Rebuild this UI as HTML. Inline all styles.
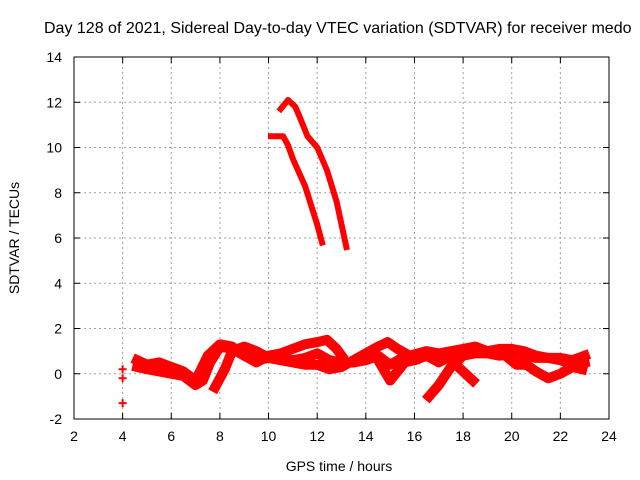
<!DOCTYPE html>
<html><head><meta charset="utf-8"><style>
body{margin:0;background:#fff}
svg{display:block;font-family:"Liberation Sans",sans-serif;font-size:14px}
</style></head><body>
<svg id="c" width="640" height="480">
<text x="44" y="33" font-size="16" text-anchor="start">Day 128 of 2021, Sidereal Day-to-day VTEC variation (SDTVAR) for receiver medo</text>
<text x="339" y="471" text-anchor="middle">GPS time / hours</text>
<text transform="translate(19,238) rotate(-90)" text-anchor="middle">SDTVAR / TECUs</text>
<g id="grid"></g>
<g id="ticks"></g>
<g id="marks"></g>
<rect x="74" y="57" width="535" height="362" fill="none" stroke="#000" stroke-width="1"/>
</svg>
<script>
const xTicks=[2,4,6,8,10,12,14,16,18,20,22,24];
const yTicks=[-2,0,2,4,6,8,10,12,14];
const arcLow=[[10.1,10.5],[10.6,10.5],[10.8,10.1],[11,9.5],[11.5,8.3],[12,6.6],[12.2,5.8]];
const arcHigh=[[10.5,11.7],[10.8,12.1],[11.1,11.8],[11.3,11.3],[11.6,10.5],[12,10.0],[12.4,9.0],[12.8,7.6],[13.2,5.6]];
const bandA=[[4.6,0.3],[5,0.2],[5.5,0.1],[6,0.0],[6.5,-0.1],[7,-0.5],[7.3,-0.3],[7.6,0.5],[8,1.2],[8.5,1.1],[9,0.8],[9.5,0.6],[10,0.7],[10.5,0.7],[11,0.6],[11.5,0.7],[12,0.9],[12.5,0.6],[13,0.5],[13.5,0.5],[14,0.6],[14.5,0.8],[15,0.4],[15.5,0.7],[16,0.6],[16.5,0.8],[17,0.5],[17.5,0.8],[18,0.8],[18.5,0.9],[19,0.9],[19.5,0.8],[20,0.9],[20.5,0.8],[21,0.7],[21.5,0.7],[22,0.6],[22.5,0.4],[23,0.5]];
const bandB=[[4.6,0.6],[5,0.4],[5.5,0.5],[6,0.3],[6.5,0.1],[7,-0.3],[7.5,0.8],[8,1.3],[8.5,1.2],[9,0.8],[9.5,0.5],[10,0.8],[10.5,0.9],[11,1.1],[11.5,1.3],[12,1.4],[12.4,1.5],[12.8,1.1],[13,0.8]];
const bandC=[[7.8,-0.6],[8.2,0.2],[8.5,1.0],[9,1.2],[9.5,1.0],[10,0.7],[10.5,0.6],[11,0.5],[11.5,0.4],[12,0.4],[12.5,0.2],[13,0.3],[13.5,0.6],[14,0.9],[14.5,1.2],[14.9,1.4],[15.3,1.1],[15.8,0.8],[16.5,1.0],[17,0.9],[17.5,1.0],[18,1.1],[18.5,1.2],[19,1.0],[19.5,1.1],[20,1.1],[20.5,1.0],[21,0.8],[21.5,0.7],[22,0.7],[22.5,0.6],[23,0.8]];
const dip1=[[14.4,0.8],[15,-0.3],[15.6,0.5],[16,0.6]];
const dip2=[[16.6,-1.0],[17,-0.5],[17.5,0.3],[18,0.8]];
const dip3=[[17.4,0.7],[18,0.1],[18.4,-0.3]];
const dip4=[[19.5,1.0],[20.2,0.4],[20.6,0.4],[21,0.1],[21.5,-0.2],[22,0.0],[22.5,0.3],[22.9,0.2]];
const outliers=[[4,0.2],[4,-0.2],[4,-1.3]];
const arcs=[arcLow,arcHigh];
const bands=[bandA,bandB,bandC,dip1,dip2,dip3,dip4];
const X=v=>74+(v-2)*(535/22), Y=v=>419-(v+2)*(362/16);
const NS='http://www.w3.org/2000/svg';
const g=document.getElementById('grid'),t=document.getElementById('ticks'),m=document.getElementById('marks');
function mk(tag,at,parent){const e=document.createElementNS(NS,tag);for(const k in at)e.setAttribute(k,at[k]);parent.appendChild(e);return e;}
xTicks.forEach(v=>{const x=X(v);
 if(v>2&&v<24){const l=mk('line',{x1:x,x2:x,y1:57,y2:419,stroke:'#a0a0a0','stroke-dasharray':'2,3'},g);}
 mk('line',{x1:x,x2:x,y1:419,y2:413,stroke:'#000'},t);mk('line',{x1:x,x2:x,y1:57,y2:63,stroke:'#000'},t);
 const tx=mk('text',{x:x,y:441,'text-anchor':'middle'},t);tx.textContent=v;
 });
yTicks.forEach(v=>{const y=Y(v);
 if(v>-2&&v<14){const l=mk('line',{x1:74,x2:609,y1:y,y2:y,stroke:'#a0a0a0','stroke-dasharray':'2,3'},g);}
 mk('line',{x1:74,x2:80,y1:y,y2:y,stroke:'#000'},t);mk('line',{x1:609,x2:603,y1:y,y2:y,stroke:'#000'},t);
 const tx=mk('text',{x:62,y:y+5,'text-anchor':'end'},t);tx.textContent=v;
 });
function draw(s,w){const p=mk('polyline',{points:s.map(d=>X(d[0])+','+Y(d[1])).join(' '),fill:'none',stroke:'#ff0000','stroke-width':w,'stroke-linejoin':'round','stroke-linecap':'square'},m);
 }
arcs.forEach(s=>draw(s,6));
bands.forEach(s=>draw(s,10));
outliers.forEach(d=>{const x=X(d[0]),y=Y(d[1]);const p=mk('path',{d:`M${x-4},${y}H${x+4}M${x},${y-4}V${y+4}`,stroke:'#ff0000','stroke-width':2},m);
 });
</script>
</body></html>
